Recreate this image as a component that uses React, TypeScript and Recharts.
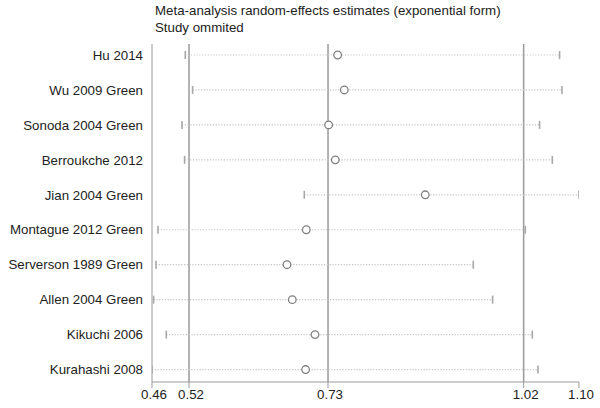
import React from "react";
import {
  ComposedChart,
  Scatter,
  XAxis,
  YAxis,
  ReferenceLine,
} from "recharts";

const studies = [
  "Hu 2014",
  "Wu 2009 Green",
  "Sonoda 2004 Green",
  "Berroukche 2012",
  "Jian 2004 Green",
  "Montague 2012 Green",
  "Serverson 1989 Green",
  "Allen 2004 Green",
  "Kikuchi 2006",
  "Kurahashi 2008",
];
const estimates = [0.7424, 0.7524, 0.7289, 0.7389, 0.8738, 0.6954, 0.6665, 0.6744, 0.7085, 0.6944];
const lowers = [0.514, 0.525, 0.5091, 0.513, 0.6924, 0.4731, 0.4701, 0.4665, 0.4855, 0.4641];
const uppers = [1.0752, 1.0788, 1.0452, 1.0643, 1.1043, 1.0238, 0.9458, 0.9748, 1.0343, 1.0428];
const overall = [0.5196, 0.728, 1.0213];
const xTicks = [0.4641, 0.5196, 0.728, 1.0213, 1.1043];
const titleLines = [
  "Meta-analysis random-effects estimates (exponential form)",
  "Study ommited",
];

const rows = studies.map((name, i) => ({
  name,
  idx: i + 1,
  est: estimates[i],
  lower: lowers[i],
  upper: uppers[i],
}));
const estData = rows.map((r) => ({ x: r.est, y: r.idx }));
const capData = rows.flatMap((r) => [
  { x: r.lower, y: r.idx },
  { x: r.upper, y: r.idx },
]);

const FONT = "'Liberation Sans', Arial, sans-serif";
const LINE = "#9a9a9a";
const TEXT = "#222";
const FS = 13.3;

const Cap = (p: any) => (
  <line x1={p.cx} x2={p.cx} y1={p.cy - 4} y2={p.cy + 4} stroke="#a8a8a8" strokeWidth={1.6} />
);
const Circle = (p: any) => (
  <circle cx={p.cx} cy={p.cy} r={3.8} fill="#fff" stroke="#808080" strokeWidth={1.3} />
);

export default function App() {
  return (
    <div style={{ position: "absolute", left: 0, top: 0, width: 600, height: 408, background: "#fff", fontFamily: FONT }}>
      <div style={{ position: "absolute", left: 155, top: 3, fontSize: FS, color: TEXT, lineHeight: "16.5px" }}>
        {titleLines.map((t) => (
          <div key={t}>{t}</div>
        ))}
      </div>
      <ComposedChart
        width={600}
        height={408}
        margin={{ top: 44, right: 21, bottom: 0, left: 0 }}
        style={{ fontFamily: FONT }}
      >
        <XAxis
          type="number"
          dataKey="x"
          domain={[xTicks[0], xTicks[xTicks.length - 1]]}
          ticks={xTicks}
          interval={0}
          allowDataOverflow
          tickFormatter={(v: number) => v.toFixed(2)}
          height={26}
          tickSize={6}
          tickMargin={2}
          stroke={LINE}
          tick={{ fill: TEXT, fontSize: FS, dx: 2 }}
        />
        <YAxis
          type="number"
          dataKey="y"
          domain={[0.685, 10.356]}
          reversed
          allowDataOverflow
          ticks={rows.map((r) => r.idx)}
          interval={0}
          tickFormatter={(v: number) => studies[v - 1] ?? ""}
          width={152}
          tickLine={false}
          tickMargin={3}
          stroke={LINE}
          tick={{ fill: TEXT, fontSize: FS }}
        />
        {overall.map((v) => (
          <ReferenceLine key={v} x={v} stroke={LINE} strokeWidth={1.5} />
        ))}
        {rows.map((r) => (
          <ReferenceLine
            key={r.name}
            segment={[
              { x: r.lower, y: r.idx },
              { x: r.upper, y: r.idx },
            ]}
            stroke="#c4c4c4"
            strokeWidth={1.2}
            strokeDasharray="1.2 1.6"
            ifOverflow="visible"
          />
        ))}
        <Scatter data={capData} shape={Cap} isAnimationActive={false} />
        <Scatter data={estData} shape={Circle} isAnimationActive={false} />
      </ComposedChart>
    </div>
  );
}
